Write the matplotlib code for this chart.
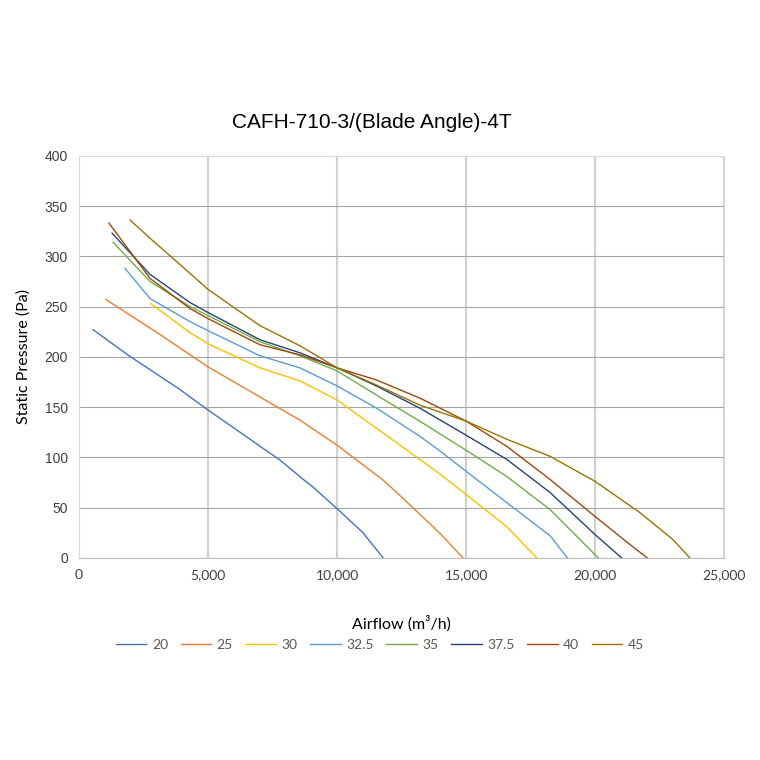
import matplotlib
matplotlib.use("Agg")
import matplotlib.pyplot as plt
from matplotlib.ticker import FuncFormatter, MultipleLocator

# blade angle curves, airflow (m3/h) vs static pressure (Pa)
x20 = [540, 1940, 3880, 5000, 6460, 7010, 7750, 8690, 9040, 10080, 11000, 11780]
y20 = [227, 201, 168, 147, 121, 111, 98, 78, 71, 47, 25, 0]

x25 = [1040, 2970, 5000, 7010, 8560, 10000, 11750, 12310, 14000, 14870]
y25 = [257, 225, 190, 160, 137, 112, 78, 65, 24, 0]

x30 = [2780, 4300, 5000, 7010, 8560, 10000, 11520, 13200, 14000, 15000, 16570, 17730]
y30 = [253, 224, 213, 189, 176, 157, 129, 98, 83, 63, 31, 0]

x325 = [1780, 2750, 4300, 5000, 7010, 8560, 10000, 11520, 13200, 14000, 15000, 16570, 18250, 18920]
y325 = [288, 258, 235, 226, 201, 189, 171, 149, 121, 106, 86, 55, 22, 0]

x35 = [1320, 2750, 4300, 5000, 7010, 8560, 10000, 11520, 13200, 15000, 16570, 18250, 20000, 20120]
y35 = [314, 275, 250, 241, 215, 201, 186, 162, 136, 107, 81, 48, 3, 0]

x375 = [1280, 2750, 4300, 5000, 7010, 8560, 10000, 11520, 13200, 15000, 16570, 18250, 20000, 21020]
y375 = [323, 282, 254, 244, 217, 204, 189, 171, 149, 122, 98, 65, 23, 0]

x40 = [1160, 2750, 4300, 5000, 7010, 8560, 10000, 11520, 13200, 15000, 16570, 18250, 20000, 21210, 22010]
y40 = [333, 278, 248, 238, 212, 202, 189, 177, 159, 136, 111, 78, 41, 16, 0]

x45 = [1980, 2750, 4300, 5000, 7010, 8560, 10000, 11520, 13200, 15000, 16570, 18250, 20000, 21730, 23020, 23660]
y45 = [336, 318, 283, 267, 231, 211, 189, 172, 152, 136, 118, 101, 76, 45, 18, 0]

labels = ["20", "25", "30", "32.5", "35", "37.5", "40", "45"]
colors = ["#4472C4", "#ED7D31", "#FFC000", "#5B9BD5", "#70AD47", "#264478", "#9E480E", "#997300"]
series = [(x20, y20), (x25, y25), (x30, y30), (x325, y325),
          (x35, y35), (x375, y375), (x40, y40), (x45, y45)]

fig = plt.figure(figsize=(7.6, 7.6), dpi=100)
ax = fig.add_axes([0.104, 0.266, 0.849, 0.529])

for (xs, ys), lab, c in zip(series, labels, colors):
    ax.plot(xs, ys, color=c, lw=1.0, label=lab, solid_joinstyle="round")

ax.set_xlim(0, 25000)
ax.set_ylim(0, 400)
ax.xaxis.set_major_locator(MultipleLocator(5000))
ax.yaxis.set_major_locator(MultipleLocator(50))
ax.xaxis.set_major_formatter(FuncFormatter(lambda v, p: f"{int(v):,}"))

ax.grid(axis="y", color="#A6A6A6", lw=0.8)
ax.grid(axis="x", color="#D0D0D0", lw=1.5)
ax.set_axisbelow(True)
for s in ax.spines.values():
    s.set_color("#D9D9D9")
ax.spines["bottom"].set_color("#BFBFBF")
ax.tick_params(length=0, pad=8, labelsize=10, labelcolor="#404040")
for t in ax.get_xticklabels():
    t.set_family("Lato")
for t in ax.get_yticklabels():
    t.set_family("Liberation Sans")

fig.text(0.489, 0.839, "CAFH-710-3/(Blade Angle)-4T", ha="center", va="center",
         fontsize=15, family="Liberation Sans")
ax.set_xlabel("Airflow (m³/h)", family="Lato", fontsize=11.5, labelpad=25)
ax.set_ylabel("Static Pressure (Pa)", family="Lato", fontsize=11.5, labelpad=10)

leg = fig.legend(loc="center", bbox_to_anchor=(0.5, 0.151), ncol=8, frameon=False,
                 handlelength=2.2, columnspacing=0.9, handletextpad=0.4,
                 prop={"family": "Lato", "size": 10})
for t in leg.get_texts():
    t.set_color("#595959")

fig.savefig("out.png", dpi=100)
